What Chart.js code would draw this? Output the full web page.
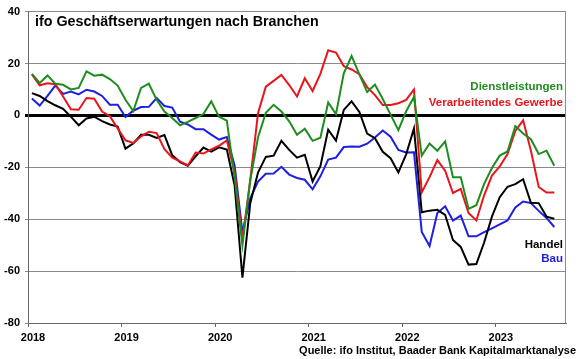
<!DOCTYPE html>
<html><head><meta charset="utf-8">
<script src="https://cdn.jsdelivr.net/npm/chart.js@4"></script>
<style>html,body{margin:0;padding:0;background:#fff}#wrap{width:580px;height:359px;position:relative}</style>
</head><body><div id="wrap"><canvas id="c" width="580" height="359"></canvas></div>
<script>
// Monthly data, Jan 2018 .. Aug 2023 (index 0 = Jan 2018)
const yearLabels = ['2018','2019','2020','2021','2022','2023'];
const yearTickIndex = [-0.5, 11.5, 23.5, 35.5, 47.5, 59.5];
const yTickValues = [40, 20, 0, -20, -40, -60, -80];

const dienstleistungen = [
  16, 12.5, 15.4, 12.2, 11.8, 10, 10.6, 17, 15.3, 15.7, 14, 11.5,
  6, 1.7, 10.6, 12.2, 6, 1.5, -1, -3.8, -2.5, -1, 0.5, 5.4,
  -0.5, -2, -24, -50, -25, -8.5, 1, 4.1, 1.5, -2.3, -7.5, -5.1,
  -9.8, -8.6, 5, 0.5, 16.2, 22.9, 15.8, 9, 11.9, 6.3, 0.3, -5.7,
  1.6, 7.1, -15.5, -10.8, -13.6, -10, -23.8, -23.8, -36, -34.6, -26.4, -20.3,
  -15.5, -13.9, -4.1, -7, -9.2, -14.9, -13.6, -19.4
];
const verarbeitendesGewerbe = [
  15.8, 11.6, 12.4, 12, 7.3, 2.4, 2.2, 6.7, 6.4, 1.5, -0.3, -5,
  -9.6, -10.6, -8.1, -6.3, -6.8, -13, -16.3, -17.7, -19.3, -14.3, -14.7, -13.1,
  -11.7, -9.6, -22, -48, -25, 0.8, 11.1, 13.3, 15.6, 11.7, 7.3, 14.3,
  9.4, 16, 25.1, 24.2, 19, 17.7, 15.9, 10.9, 7.8, 4, 4, 4.7,
  6, 10, -29.7, -23.8, -17.2, -21.3, -29.9, -28.3, -37.6, -40.5, -30.8, -23.2,
  -19.7, -14.9, -6, -1.9, -13.6, -27.6, -29.7, -29.7
];
const handel = [
  8.6, 7.5, 5.5, 3.9, 2.5, -0.5, -3.8, -1.2, -0.5, -2.2, -3.5, -4.3,
  -12.8, -10.8, -7.5, -7.5, -8.7, -7.6, -15.4, -18, -19.4, -15.8, -12.4, -14,
  -12.3, -13.2, -27, -62.5, -34, -22, -16, -15.5, -9.8, -13.3, -16.3, -15.2,
  -25.5, -19.6, -5.5, -9.7, 2.1, 5.4, 1.3, -7, -8.8, -14, -16.5, -22,
  -15, -5, -37.3, -36.7, -36.4, -38.3, -48, -50.7, -57.5, -57.3, -49, -39,
  -31.5, -27.5, -26.5, -24.6, -33.7, -33.8, -39, -39.8
];
const bau = [
  6.5, 3.8, 7.5, 11.5, 8.3, 9.2, 8.1, 9.9, 9.2, 7.5, 4.1, 4.1,
  -0.6, 1.8, 3.2, 3.3, 6.7, 3.6, 3, -2.4, -3.5, -5.3, -5.3, -7.4,
  -9.3, -8.3, -19.3, -45, -32, -25.5, -22.5, -22.4, -19.8, -22.8, -24.1, -24.8,
  -28.5, -23.5, -17, -16.3, -12.2, -12, -12.1, -10.9, -8.5, -5.8, -8.2, -13.3,
  -14.3, -14.2, -44.9, -50.3, -37.6, -35, -40.5, -38.6, -46.6, -46.6, -45, -43.5,
  -42, -40.5, -35.5, -33.2, -33.8, -36.8, -39.5, -43
];

const seriesNames = ['Dienstleistungen', 'Verarbeitendes Gewerbe', 'Handel', 'Bau'];
const seriesColors = ['#1f8c1f', '#e8161c', '#000000', '#1f1fdf'];
const seriesValues = [dienstleistungen, verarbeitendesGewerbe, handel, bau];

const FONT = 'Arial, "Liberation Sans", sans-serif';

const toPoints = arr => arr.map((v, i) => ({x: i, y: v}));

const overlay = {
  id: 'overlay',
  afterDraw(chart) {
    const {ctx, chartArea: a} = chart;
    ctx.save();
    // right frame line
    ctx.strokeStyle = '#8a8a8a'; ctx.lineWidth = 1;
    ctx.beginPath(); ctx.moveTo(a.right - 0.5, a.top); ctx.lineTo(a.right - 0.5, a.bottom); ctx.stroke();
    // title
    ctx.fillStyle = '#000';
    ctx.font = 'bold 14.3px ' + FONT;
    ctx.textAlign = 'left'; ctx.textBaseline = 'alphabetic';
    ctx.fillText('ifo Geschäftserwartungen nach Branchen', a.left + 7, a.top + 14);
    // series labels
    ctx.font = 'bold 11.5px ' + FONT;
    ctx.textAlign = 'right';
    const rx = a.right - 3;
    ctx.fillStyle = seriesColors[0]; ctx.fillText(seriesNames[0], rx, 89.5);
    ctx.fillStyle = seriesColors[1]; ctx.fillText(seriesNames[1], rx, 106);
    ctx.fillStyle = seriesColors[2]; ctx.fillText(seriesNames[2], rx, 248);
    ctx.fillStyle = seriesColors[3]; ctx.fillText(seriesNames[3], rx, 261.5);
    // source
    ctx.fillStyle = '#000';
    ctx.font = 'bold 11px ' + FONT;
    ctx.fillText('Quelle: ifo Institut, Baader Bank Kapitalmarktanalyse', 576, 354);
    ctx.restore();
  }
};

new Chart(document.getElementById('c'), {
  type: 'line',
  data: {
    datasets: seriesNames.map((n, k) => ({
      label: n,
      data: toPoints(seriesValues[k]),
      borderColor: seriesColors[k],
      backgroundColor: seriesColors[k],
      borderWidth: 2,
      pointRadius: 0,
      tension: 0,
      fill: false
    }))
  },
  options: {
    responsive: false,
    animation: false,
    devicePixelRatio: 1,
    layout: {padding: {top: 10, right: 14, left: 0, bottom: 0}},
    plugins: {legend: {display: false}, title: {display: false}, tooltip: {enabled: false}},
    scales: {
      x: {
        type: 'linear',
        min: -0.5, max: 68.5,
        afterBuildTicks: s => { s.ticks = yearTickIndex.map(v => ({value: v})); },
        afterFit: s => { s.height = 36; },
        ticks: {
          autoSkip: false, maxRotation: 0, minRotation: 0,
          callback: (v) => yearLabels[Math.round((v + 0.5) / 12)],
          font: {family: FONT, size: 11, weight: 'bold'},
          color: '#000', padding: 4, labelOffset: 5
        },
        grid: {drawOnChartArea: false, drawTicks: true, tickLength: 4, color: '#666'},
        border: {display: true, color: '#666', width: 1}
      },
      y: {
        min: -80, max: 40,
        afterBuildTicks: s => { s.ticks = yTickValues.map(v => ({value: v})); },
        afterFit: s => { s.width = 28; },
        ticks: {
          font: {family: FONT, size: 11, weight: 'bold'},
          color: '#000', padding: 5
        },
        grid: {
          tickLength: 3,
          color: c => (c.tick && c.tick.value === 0) ? '#000' : '#8a8a8a',
          lineWidth: c => (c.tick && c.tick.value === 0) ? 3 : 1
        },
        border: {display: true, color: '#666', width: 1}
      }
    }
  },
  plugins: [overlay]
});
</script>
</body></html>
